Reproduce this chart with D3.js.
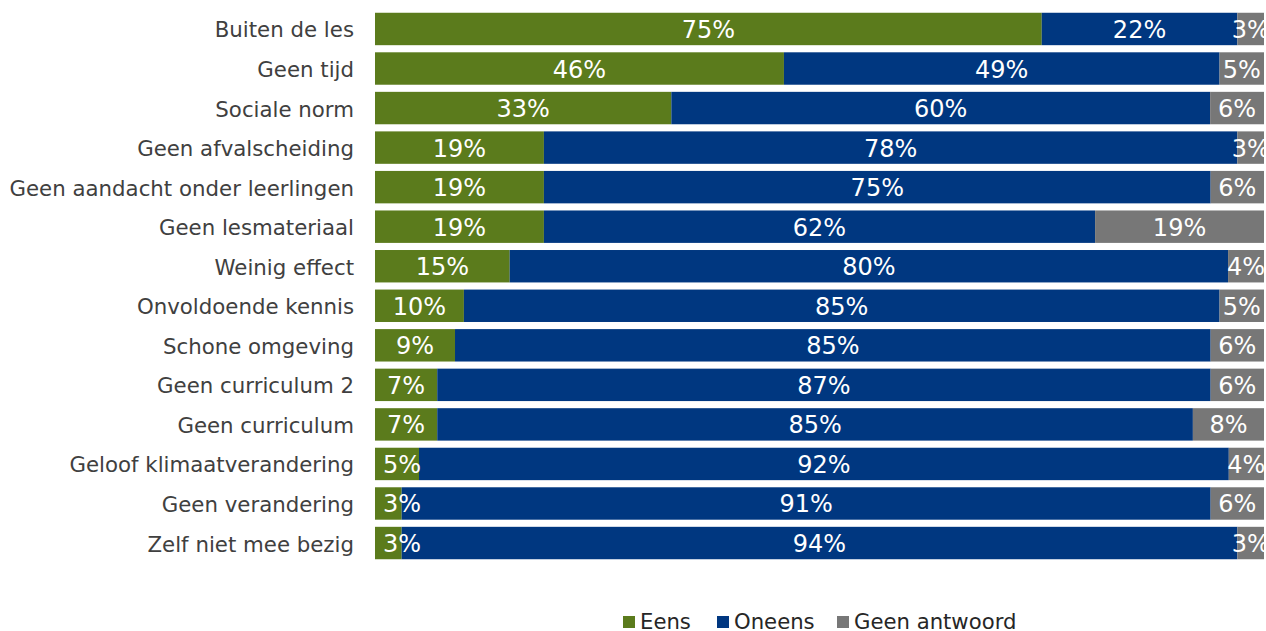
<!DOCTYPE html>
<html><head><meta charset="utf-8">
<script src="https://cdn.jsdelivr.net/npm/d3@7"></script>
<style>body{margin:0;background:#fff}svg{display:block}</style>
</head><body>
<svg id="c" width="1266" height="631"></svg>
<script>
const categories = ["Buiten de les","Geen tijd","Sociale norm","Geen afvalscheiding","Geen aandacht onder leerlingen","Geen lesmateriaal","Weinig effect","Onvoldoende kennis","Schone omgeving","Geen curriculum 2","Geen curriculum","Geloof klimaatverandering","Geen verandering","Zelf niet mee bezig"];
const eens = [75,46,33,19,19,19,15,10,9,7,7,5,3,3];
const oneens = [22,49,60,78,75,62,80,85,85,87,85,92,91,94];
const geenAntwoord = [3,5,6,3,6,19,4,5,6,6,8,4,6,3];
const seriesNames = ["Eens","Oneens","Geen antwoord"];
const colors = ["#5b7b1c","#003780","#777777"];

const svg = d3.select("#c");
const x0 = 375, x1 = 1264;
const x = d3.scaleLinear().domain([0,1]).range([x0,x1]);
const y = d3.scaleBand().domain(categories).range([9.2,562.8]).paddingInner(0.18).paddingOuter(0.09);

const rows = categories.map((c,i)=>{
  const vals=[eens[i],oneens[i],geenAntwoord[i]];
  const tot=d3.sum(vals);
  let acc=0;
  return vals.map((v,k)=>{const s={cat:c,k,v,a:acc/tot,b:(acc+v)/tot};acc+=v;return s;});
});
const segs = rows.flat();

const g = svg.append("g");
g.selectAll("rect").data(segs).join("rect")
  .attr("x",d=>x(d.a)).attr("width",d=>x(d.b)-x(d.a))
  .attr("y",d=>y(d.cat)).attr("height",y.bandwidth())
  .attr("fill",d=>colors[d.k]);

const fs = 24;
g.selectAll("text.v").data(segs).join("text").attr("class","v")
  .attr("font-family","DejaVu Sans, Verdana, sans-serif").attr("font-size",fs)
  .attr("fill","#fff").attr("text-anchor","middle")
  .attr("dominant-baseline","central")
  .attr("y",d=>y(d.cat)+y.bandwidth()/2+1)
  .text(d=>d.v+"%")
  .attr("x",function(d){
    const w=this.getComputedTextLength();
    const c=(x(d.a)+x(d.b))/2;
    return Math.max(c, x0+8+w/2);
  });

svg.append("g").selectAll("text").data(categories).join("text")
  .attr("x",354).attr("y",d=>y(d)+y.bandwidth()/2+1)
  .attr("text-anchor","end").attr("dominant-baseline","central")
  .attr("font-family","DejaVu Sans, Verdana, sans-serif").attr("font-size",21.3)
  .attr("fill","#404040").text(d=>d);

const legX=[623,717,837];
const lg = svg.append("g").selectAll("g").data(seriesNames).join("g")
  .attr("transform",(d,i)=>`translate(${legX[i]},0)`);
lg.append("rect").attr("x",0).attr("y",616).attr("width",12).attr("height",12).attr("fill",(d,i)=>colors[i]);
lg.append("text").attr("x",17).attr("y",629)
  .attr("font-family","DejaVu Sans, Verdana, sans-serif").attr("font-size",21.2)
  .attr("fill","#262626").text(d=>d);
</script>
</body></html>
